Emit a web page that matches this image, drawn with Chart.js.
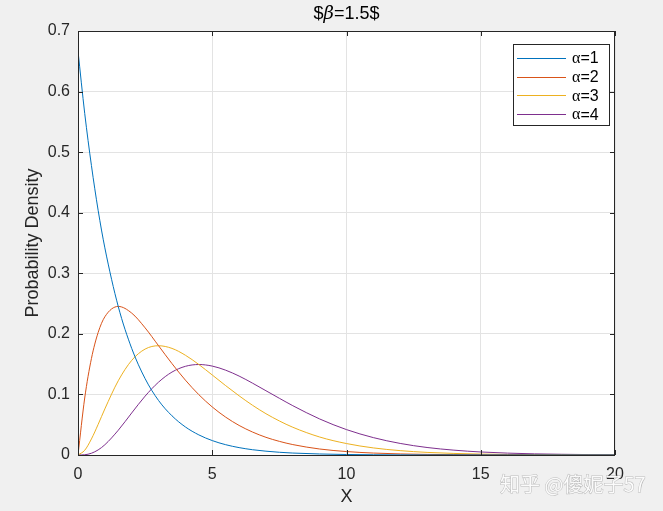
<!DOCTYPE html>
<html>
<head>
<meta charset="utf-8">
<script src="https://cdn.jsdelivr.net/npm/chart.js@4/dist/chart.umd.min.js"></script>
<style>
  html, body { margin: 0; padding: 0; background: #f0f0f0; }
  #wrap { width: 663px; height: 511px; }
</style>
</head>
<body>
<div id="wrap"><canvas id="c" width="663" height="511"></canvas></div>
<script>
// values (beta = 1.5)
const xs = [0, 0.25, 0.5, 0.75, 1, 1.5, 2, 2.5, 3, 3.5, 4, 4.5, 5, 5.5, 6, 6.5, 7, 7.5, 8,
            9, 10, 11, 12, 13, 14, 15, 16, 17, 18, 19, 20];
const alpha1 = [0.667, 0.564, 0.478, 0.404, 0.342, 0.245, 0.176, 0.126, 0.090, 0.0647, 0.0463, 0.0332, 0.0238, 0.0170, 0.0122, 0.0087, 0.0063, 0.0045, 0.0032,
                0.0017, 0.0008, 0.0004, 0.0002, 0.0001, 0.0001, 0, 0, 0, 0, 0, 0];
const alpha2 = [0, 0.0941, 0.1592, 0.2022, 0.2282, 0.2453, 0.2343, 0.2099, 0.1804, 0.1509, 0.1236, 0.0996, 0.0793, 0.0625, 0.0488, 0.0379, 0.0292, 0.0225, 0.0172,
                0.0099, 0.0057, 0.0032, 0.0018, 0.0010, 0.0006, 0.0003, 0.0002, 0.0001, 0, 0, 0];
const alpha3 = [0, 0.0078, 0.0265, 0.0505, 0.0761, 0.1226, 0.1562, 0.1749, 0.1804, 0.1760, 0.1647, 0.1494, 0.1321, 0.1145, 0.0977, 0.0821, 0.0682, 0.0562, 0.0458,
                0.0297, 0.0189, 0.0117, 0.0072, 0.0043, 0.0026, 0.0015, 0.0009, 0.0005, 0.0003, 0.0002, 0.0001];
const alpha4 = [0, 0.0004, 0.0029, 0.0084, 0.0169, 0.0409, 0.0694, 0.0972, 0.1203, 0.1369, 0.1464, 0.1494, 0.1468, 0.1400, 0.1303, 0.1186, 0.1061, 0.0936, 0.0814,
                0.0595, 0.0419, 0.0287, 0.0191, 0.0124, 0.0080, 0.0050, 0.0031, 0.0019, 0.0012, 0.0007, 0.0004];
const seriesNames = ['\u03b1=1', '\u03b1=2', '\u03b1=3', '\u03b1=4'];
const seriesColors = ['#0072BD', '#D95319', '#EDB120', '#7E2F8E'];
const xTicks = [0, 5, 10, 15, 20];
const yTicks = [0, 0.1, 0.2, 0.3, 0.4, 0.5, 0.6, 0.7];

const FONT = '"Liberation Sans", Arial, sans-serif';

function pts(ys) {
    return xs.map((x, i) => ({x: x, y: ys[i]}));
}

const datasets = [alpha1, alpha2, alpha3, alpha4].map((ys, i) => ({
    label: seriesNames[i],
    data: pts(ys),
    borderColor: seriesColors[i],
    backgroundColor: seriesColors[i],
    borderWidth: 1,
    pointRadius: 0,
    cubicInterpolationMode: 'monotone',
    fill: false
}));

// background, box, titles, legend, watermark
const decor = {
    id: 'decor',
    beforeDraw(chart) {
        const ctx = chart.ctx, a = chart.chartArea;
        ctx.save();
        ctx.fillStyle = '#f0f0f0';
        ctx.fillRect(0, 0, chart.width, chart.height);
        ctx.fillStyle = '#ffffff';
        ctx.fillRect(a.left, a.top, a.right - a.left, a.bottom - a.top);
        ctx.restore();
    },
    afterDraw(chart) {
        const ctx = chart.ctx, a = chart.chartArea;
        ctx.save();
        // axes box
        ctx.strokeStyle = '#262626';
        ctx.lineWidth = 1;
        ctx.strokeRect(a.left + 0.5, a.top + 0.5, a.right - a.left - 1, a.bottom - a.top);

        // inward ticks
        const xs_ = chart.scales.x, ys_ = chart.scales.y;
        ctx.beginPath();
        xTicks.forEach(v => {
            const px = Math.round(xs_.getPixelForValue(v)) + 0.5;
            ctx.moveTo(px, a.bottom); ctx.lineTo(px, a.bottom - 5);
            ctx.moveTo(px, a.top); ctx.lineTo(px, a.top + 5);
        });
        yTicks.forEach(v => {
            const py = Math.round(ys_.getPixelForValue(v)) + 0.5;
            ctx.moveTo(a.left, py); ctx.lineTo(a.left + 5, py);
            ctx.moveTo(a.right, py); ctx.lineTo(a.right - 5, py);
        });
        ctx.stroke();

        // title: $beta=1.5$
        ctx.fillStyle = '#000000';
        ctx.textBaseline = 'middle';
        const cx = (a.left + a.right) / 2;
        const p1 = '$', p2 = '\u03b2', p3 = '=1.5$';
        const tf = '18px ' + FONT, gf = 'italic 18px "DejaVu Serif", serif';
        ctx.font = tf;
        const w1 = ctx.measureText(p1).width, w3 = ctx.measureText(p3).width;
        ctx.font = gf;
        const w2 = ctx.measureText(p2).width;
        let tx = cx - (w1 + w2 + w3) / 2;
        ctx.textAlign = 'left';
        ctx.font = tf;
        ctx.fillText(p1, tx, 14);
        ctx.font = gf;
        ctx.fillText(p2, tx + w1, 14);
        ctx.font = tf;
        ctx.fillText(p3, tx + w1 + w2, 14);

        // axis titles
        ctx.textAlign = 'center';
        ctx.font = '18px ' + FONT;
        ctx.fillStyle = '#262626';
        ctx.fillText('X', cx, 497);
        ctx.save();
        ctx.translate(33, (a.top + a.bottom) / 2);
        ctx.rotate(-Math.PI / 2);
        ctx.fillText('Probability Density', 0, 0);
        ctx.restore();

        // legend
        const lx = 513.5, ly = 44.5, lw = 96, lh = 81;
        ctx.fillStyle = '#ffffff';
        ctx.fillRect(lx, ly, lw, lh);
        ctx.strokeStyle = '#262626';
        ctx.strokeRect(lx, ly, lw, lh);
        chart.data.datasets.forEach((ds, i) => {
            const yy = 58 + i * 18.7;
            ctx.strokeStyle = ds.borderColor;
            ctx.beginPath();
            ctx.moveTo(517, Math.round(yy) + 0.5); ctx.lineTo(566, Math.round(yy) + 0.5);
            ctx.stroke();
            const parts = ds.label.split('=');
            ctx.fillStyle = '#000000';
            ctx.textAlign = 'left';
            ctx.font = '16px "Liberation Serif", serif';
            ctx.fillText(parts[0], 572, yy + 1);
            const wa = ctx.measureText(parts[0]).width;
            ctx.font = '16px ' + FONT;
            ctx.fillText('=' + parts[1], 572 + wa, yy + 1);
        });

        // watermark
        ctx.font = '20px "Noto Sans CJK SC", sans-serif';
        ctx.textAlign = 'left';
        ctx.lineWidth = 1;
        ctx.strokeStyle = 'rgba(150,150,150,0.6)';
        ctx.strokeText('\u77e5\u4e4e @\u50bb\u59ae\u5b5057', 500, 484);
        ctx.fillStyle = 'rgba(255,255,255,0.9)';
        ctx.fillText('\u77e5\u4e4e @\u50bb\u59ae\u5b5057', 500, 484);
        ctx.restore();
    }
};

new Chart(document.getElementById('c'), {
    type: 'line',
    data: { datasets: datasets },
    options: {
        responsive: false,
        animation: false,
        events: [],
        layout: { padding: { left: 0, top: 31, right: 48, bottom: 0 } },
        plugins: {
            legend: { display: false },
            title: { display: false },
            tooltip: { enabled: false }
        },
        scales: {
            x: {
                type: 'linear',
                min: 0, max: 20,
                afterFit(s) { s.height = 56; },
                afterBuildTicks(s) { s.ticks = xTicks.map(v => ({value: v})); },
                grid: { color: '#e3e3e3', drawTicks: false },
                border: { display: false },
                ticks: {
                    padding: 10,
                    color: '#262626',
                    font: { family: FONT, size: 16 },
                    maxRotation: 0,
                    callback: v => String(v)
                }
            },
            y: {
                type: 'linear',
                min: 0, max: 0.7,
                afterFit(s) { s.width = 78; },
                afterBuildTicks(s) { s.ticks = yTicks.map(v => ({value: v})); },
                grid: { color: '#e3e3e3', drawTicks: false },
                border: { display: false },
                ticks: {
                    padding: 8,
                    color: '#262626',
                    font: { family: FONT, size: 16 },
                    callback: v => (Math.round(v * 10) / 10).toString()
                }
            }
        }
    },
    plugins: [decor]
});
</script>
</body>
</html>
